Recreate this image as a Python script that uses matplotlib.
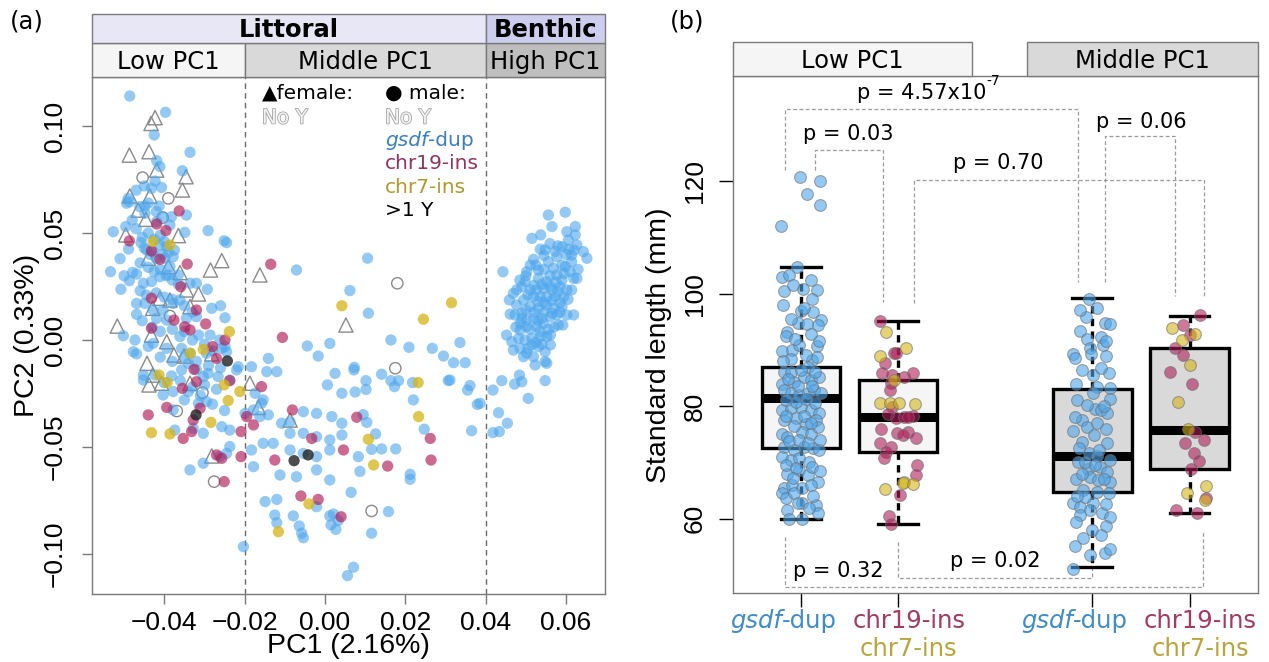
import numpy as np
import matplotlib
matplotlib.use("Agg")
import matplotlib.pyplot as plt
from matplotlib.patches import Rectangle
import matplotlib.patheffects as pe
from matplotlib.transforms import offset_copy, blended_transform_factory

# ======================= DATA : panel (a) PCA =======================
# (PC1, PC2) pairs
pc_blue = [
    (-0.0486, 0.1140), (-0.0397, 0.1064), (-0.0425, 0.0958), (-0.0336, 0.0877), (-0.0419, 0.0838),
    (-0.0411, 0.0810), (-0.0355, 0.0791), (-0.0423, 0.0743), (-0.0432, 0.0709), (-0.0407, 0.0713),
    (-0.0490, 0.0662), (-0.0494, 0.0639), (-0.0461, 0.0623), (-0.0448, 0.0626), (-0.0413, 0.0626),
    (-0.0487, 0.0646), (-0.0403, 0.0576), (-0.0382, 0.0576), (-0.0345, 0.0584), (-0.0448, 0.0592),
    (-0.0527, 0.0506), (-0.0496, 0.0530), (-0.0419, 0.0553), (-0.0386, 0.0537), (-0.0349, 0.0503),
    (-0.0291, 0.0511), (-0.0251, 0.0464), (-0.0245, 0.0455), (-0.0489, 0.0425), (-0.0458, 0.0455),
    (-0.0444, 0.0421), (-0.0428, 0.0413), (-0.0411, 0.0444), (-0.0394, 0.0436), (-0.0378, 0.0389),
    (-0.0399, 0.0382), (-0.0386, 0.0343), (-0.0534, 0.0319), (-0.0479, 0.0316), (-0.0469, 0.0308),
    (-0.0487, 0.0277), (-0.0508, 0.0237), (-0.0452, 0.0265), (-0.0432, 0.0273), (-0.0411, 0.0296),
    (-0.0390, 0.0304), (-0.0365, 0.0304), (-0.0336, 0.0265), (-0.0320, 0.0265), (-0.0293, 0.0237),
    (-0.0469, 0.0171), (-0.0448, 0.0171), (-0.0428, 0.0140), (-0.0403, 0.0140), (-0.0378, 0.0171),
    (-0.0361, 0.0187), (-0.0282, 0.0148), (-0.0260, 0.0160), (-0.0469, 0.0120), (-0.0419, 0.0101),
    (-0.0394, 0.0093), (-0.0345, 0.0101), (-0.0320, 0.0109), (-0.0249, 0.0104), (-0.0502, 0.0020),
    (-0.0473, 0.0000), (-0.0428, -0.0016), (-0.0361, 0.0016), (-0.0315, 0.0023), (-0.0286, 0.0023),
    (-0.0262, 0.0000), (-0.0477, -0.0055), (-0.0469, -0.0065), (-0.0394, -0.0039), (-0.0357, -0.0039),
    (-0.0336, -0.0062), (-0.0295, -0.0062), (-0.0257, -0.0039), (-0.0249, -0.0031), (-0.0245, -0.0055),
    (-0.0452, -0.0164), (-0.0452, -0.0187), (-0.0423, -0.0164), (-0.0382, -0.0168), (-0.0357, -0.0140),
    (-0.0340, -0.0109), (-0.0320, -0.0140), (-0.0303, -0.0171), (-0.0291, -0.0156), (-0.0266, -0.0171),
    (-0.0237, -0.0187), (-0.0220, -0.0140), (-0.0216, -0.0125), (-0.0403, -0.0257), (-0.0378, -0.0241),
    (-0.0340, -0.0241), (-0.0315, -0.0296), (-0.0295, -0.0288), (-0.0257, -0.0405), (-0.0237, -0.0421),
    (-0.0303, -0.0436), (-0.0328, -0.0413), (-0.0374, -0.0421), (-0.0378, -0.0327), (-0.0245, -0.0530),
    (-0.0237, -0.0498), (-0.0262, -0.0545), (-0.0336, -0.0607), (-0.0303, -0.0576), (-0.0183, -0.0125),
    (-0.0141, -0.0086), (-0.0145, -0.0148), (-0.0120, -0.0148), (-0.0174, -0.0249), (-0.0154, -0.0280),
    (-0.0158, -0.0296), (-0.0178, -0.0327), (-0.0141, -0.0350), (-0.0071, 0.0327), (-0.0044, -0.0028),
    (0.0012, -0.0016), (-0.0017, -0.0075), (0.0025, -0.0156), (0.0006, -0.0210), (0.0042, -0.0249),
    (-0.0108, -0.0389), (-0.0087, -0.0382), (-0.0054, -0.0335), (-0.0021, -0.0343), (0.0017, -0.0358),
    (0.0042, -0.0389), (-0.0087, -0.0436), (-0.0054, -0.0436), (-0.0021, -0.0452), (0.0012, -0.0467),
    (0.0042, -0.0444), (-0.0183, -0.0514), (-0.0154, -0.0483), (-0.0129, -0.0483), (-0.0087, -0.0514),
    (-0.0054, -0.0530), (-0.0021, -0.0545), (0.0012, -0.0514), (-0.0178, -0.0592), (-0.0112, -0.0631),
    (-0.0071, -0.0639), (-0.0021, -0.0607), (0.0012, -0.0654), (-0.0162, -0.0358), (-0.0199, -0.0343),
    # middle region
    (0.0106, 0.0382), (0.0062, 0.0231), (0.0108, 0.0125), (0.0164, 0.0000), (0.0209, -0.0034),
    (0.0267, -0.0039), (0.0336, -0.0012), (0.0295, -0.0075), (0.0320, -0.0106), (0.0349, -0.0106),
    (0.0073, -0.0128), (0.0072, -0.0140), (0.0102, -0.0190), (0.0102, -0.0231), (0.0075, -0.0243),
    (0.0141, -0.0160), (0.0164, -0.0190), (0.0173, -0.0218), (0.0183, -0.0190), (0.0218, -0.0199),
    (0.0220, -0.0280), (0.0307, -0.0190), (0.0311, -0.0187), (0.0361, -0.0213), (0.0355, -0.0234),
    (0.0379, -0.0301), (0.0365, -0.0424), (0.0247, -0.0417), (0.0176, -0.0509), (0.0141, -0.0509),
    (0.0116, -0.0511), (0.0126, -0.0439), (0.0095, -0.0349), (0.0104, -0.0385), (0.0083, -0.0545),
    (0.0087, -0.0614), (0.0065, -0.0712), (0.0212, -0.0628), (0.0212, -0.0651), (0.0158, -0.0802),
    (0.0116, -0.0903), (0.0071, -0.1062), (0.0056, -0.1101), (-0.0125, -0.0818), (-0.0120, -0.0854),
    (-0.0079, -0.0822), (-0.0064, -0.0869), (-0.0058, -0.0903), (-0.0054, -0.0924), (0.0012, -0.0822),
    (0.0015, -0.0864), (0.0027, -0.0885), (0.0021, -0.0813), (0.0033, -0.0844), (-0.0021, -0.0779),
    (-0.0203, -0.0966), (-0.0120, -0.0745), (-0.0149, -0.0755),
    # benthic cluster
    (0.0556, 0.0584), (0.0598, 0.0597), (0.0565, 0.0530), (0.0623, 0.0530), (0.0602, 0.0506),
    (0.0623, 0.0491), (0.0537, 0.0491), (0.0515, 0.0475), (0.0606, 0.0467), (0.0627, 0.0444),
    (0.0643, 0.0413), (0.0652, 0.0382), (0.0536, 0.0424), (0.0548, 0.0421), (0.0573, 0.0413),
    (0.0590, 0.0436), (0.0606, 0.0424), (0.0614, 0.0397), (0.0577, 0.0389), (0.0556, 0.0366),
    (0.0519, 0.0377), (0.0511, 0.0350), (0.0502, 0.0319), (0.0531, 0.0327), (0.0569, 0.0335),
    (0.0598, 0.0343), (0.0614, 0.0366), (0.0619, 0.0288), (0.0627, 0.0288), (0.0577, 0.0304),
    (0.0590, 0.0280), (0.0552, 0.0273), (0.0531, 0.0288), (0.0498, 0.0273), (0.0477, 0.0234),
    (0.0490, 0.0249), (0.0511, 0.0234), (0.0527, 0.0234), (0.0544, 0.0241), (0.0565, 0.0234),
    (0.0585, 0.0249), (0.0602, 0.0234), (0.0614, 0.0234), (0.0469, 0.0218), (0.0459, 0.0187),
    (0.0477, 0.0164), (0.0494, 0.0187), (0.0519, 0.0202), (0.0536, 0.0202), (0.0552, 0.0202),
    (0.0573, 0.0202), (0.0594, 0.0202), (0.0461, 0.0121), (0.0473, 0.0117), (0.0490, 0.0125),
    (0.0511, 0.0156), (0.0531, 0.0148), (0.0552, 0.0164), (0.0569, 0.0148), (0.0590, 0.0156),
    (0.0486, 0.0078), (0.0502, 0.0093), (0.0519, 0.0101), (0.0540, 0.0101), (0.0561, 0.0109),
    (0.0577, 0.0117), (0.0602, 0.0117), (0.0619, 0.0117), (0.0581, 0.0070), (0.0592, 0.0070),
    (0.0486, 0.0047), (0.0502, 0.0062), (0.0527, 0.0062), (0.0544, 0.0078), (0.0452, 0.0023),
    (0.0465, -0.0008), (0.0482, 0.0008), (0.0498, 0.0000), (0.0515, 0.0008), (0.0536, 0.0016),
    (0.0552, 0.0016), (0.0561, 0.0023), (0.0469, -0.0047), (0.0486, -0.0039), (0.0502, -0.0062),
    (0.0515, -0.0023), (0.0531, -0.0031), (0.0548, -0.0055), (0.0561, -0.0023), (0.0494, -0.0078),
    (0.0519, -0.0078), (0.0523, -0.0117), (0.0548, -0.0101), (0.0552, -0.0109), (0.0443, 0.0319),
    (0.0484, -0.0164), (0.0490, -0.0195), (0.0472, -0.0206), (0.0440, -0.0190), (0.0418, -0.0234),
    (0.0548, -0.0190), (0.0506, -0.0273), (0.0432, -0.0340), (0.0454, -0.0389), (0.0418, -0.0433),
    (0.0434, -0.0428), (0.0386, -0.0296),
    (0.0545, 0.0330), (0.0560, 0.0300), (0.0575, 0.0270), (0.0595, 0.0310), (0.0540, 0.0260),
    (0.0560, 0.0250), (0.0580, 0.0225), (0.0520, 0.0255), (0.0505, 0.0210), (0.0530, 0.0180),
    (0.0545, 0.0175), (0.0565, 0.0185), (0.0585, 0.0175), (0.0605, 0.0190), (0.0500, 0.0140),
    (0.0520, 0.0130), (0.0545, 0.0130), (0.0565, 0.0125), (0.0585, 0.0130), (0.0510, 0.0050),
    (0.0535, 0.0040), (0.0555, 0.0050), (0.0570, 0.0060), (0.0525, -0.0010), (0.0540, -0.0020),
    (0.0505, -0.0040), (0.0590, 0.0350), (0.0610, 0.0320), (0.0630, 0.0330), (0.0600, 0.0400),
    (0.0620, 0.0420), (0.0580, 0.0440), (0.0560, 0.0450), (0.0545, 0.0395), (0.0525, 0.0350),
    (0.0500, 0.0300), (0.0485, 0.0280), (0.0490, 0.0100), (0.0475, 0.0060), (0.0530, 0.0090),
    # extra dense low-PC1 cloud
    (-0.0480, 0.0560), (-0.0470, 0.0520), (-0.0455, 0.0480), (-0.0440, 0.0500), (-0.0425, 0.0470),
    (-0.0410, 0.0490), (-0.0400, 0.0460), (-0.0450, 0.0430), (-0.0435, 0.0400), (-0.0420, 0.0380),
    (-0.0405, 0.0400), (-0.0390, 0.0410), (-0.0375, 0.0420), (-0.0460, 0.0360), (-0.0440, 0.0340),
    (-0.0425, 0.0320), (-0.0410, 0.0330), (-0.0395, 0.0300), (-0.0380, 0.0280), (-0.0365, 0.0260),
    (-0.0460, 0.0230), (-0.0445, 0.0210), (-0.0420, 0.0220), (-0.0400, 0.0200), (-0.0380, 0.0190),
    (-0.0350, 0.0160), (-0.0330, 0.0130), (-0.0455, 0.0090), (-0.0430, 0.0060), (-0.0410, 0.0040),
    (-0.0380, 0.0050), (-0.0350, 0.0040), (-0.0330, 0.0000), (-0.0300, -0.0020), (-0.0280, -0.0050),
    (-0.0440, -0.0030), (-0.0410, -0.0080), (-0.0380, -0.0100), (-0.0350, -0.0080), (-0.0320, -0.0100),
    (-0.0290, -0.0120), (-0.0260, -0.0130), (-0.0400, -0.0200), (-0.0360, -0.0190), (-0.0330, -0.0220),
    (-0.0300, -0.0210), (-0.0270, -0.0230), (-0.0350, -0.0280), (-0.0310, -0.0260), (-0.0280, -0.0300),
    (-0.0250, -0.0330), (-0.0440, 0.0640), (-0.0420, 0.0600), (-0.0470, 0.0700), (-0.0450, 0.0720),
    (-0.0510, 0.0380), (-0.0500, 0.0300),
]
pc_crimson = [
    (-0.0363, 0.0603), (-0.0419, 0.0542), (-0.0487, 0.0463), (-0.0396, 0.0511), (-0.0343, 0.0355),
    (-0.0411, 0.0377), (-0.0432, 0.0416), (-0.0359, 0.0249), (-0.0432, 0.0195), (-0.0320, 0.0140),
    (-0.0376, 0.0093), (-0.0432, 0.0055), (-0.0349, 0.0062), (-0.0336, 0.0047), (-0.0297, 0.0075),
    (-0.0249, 0.0000), (-0.0280, -0.0031), (-0.0270, -0.0086), (-0.0326, -0.0137), (-0.0355, -0.0226),
    (-0.0320, -0.0195), (-0.0237, -0.0190), (-0.0394, -0.0315), (-0.0440, -0.0350), (-0.0311, -0.0319),
    (-0.0328, -0.0374), (-0.0332, -0.0428), (-0.0353, -0.0460), (-0.0195, -0.0358), (-0.0178, -0.0397),
    (-0.0209, -0.0428), (-0.0209, -0.0545), (-0.0270, -0.0537), (-0.0257, -0.0553), (-0.0251, -0.0662),
    (-0.0135, 0.0354), (-0.0106, 0.0012), (-0.0158, -0.0218), (-0.0081, -0.0327), (-0.0033, -0.0460),
    (0.0046, -0.0514), (-0.0125, -0.0561),
    (0.0079, -0.0361), (0.0262, -0.0460), (0.0264, -0.0561), (0.0156, -0.0589), (0.0040, -0.0826),
    (-0.0060, -0.0729), (-0.0017, -0.0745),
]
pc_yellow = [
    (-0.0428, 0.0460), (-0.0386, 0.0444), (-0.0238, 0.0039), (-0.0303, -0.0044), (-0.0335, -0.0062),
    (-0.0413, -0.0164), (-0.0393, -0.0199), (-0.0251, -0.0210), (-0.0212, -0.0241), (-0.0241, -0.0283),
    (-0.0284, -0.0385), (-0.0432, -0.0433), (-0.0386, -0.0439), (0.0042, 0.0160),
    (0.0245, 0.0097), (0.0315, 0.0174), (0.0232, -0.0199), (0.0233, -0.0358), (0.0108, -0.0464),
    (0.0121, -0.0584), (-0.0040, -0.0766), (-0.0116, -0.0896),
]
pc_black = [(-0.0243, -0.0098), (-0.0321, -0.0350), (-0.0077, -0.0564), (-0.0042, -0.0537)]
pc_noY_female = [
    (-0.0423, 0.1039), (-0.0433, 0.1012), (-0.0487, 0.0864), (-0.0438, 0.0880), (-0.0419, 0.0794),
    (-0.0346, 0.0763), (-0.0355, 0.0701), (-0.0486, 0.0673), (-0.0436, 0.0673), (-0.0465, 0.0607),
    (-0.0446, 0.0564), (-0.0365, 0.0488), (-0.0496, 0.0491), (-0.0440, 0.0382), (-0.0390, 0.0343),
    (-0.0361, 0.0315), (-0.0257, 0.0371), (-0.0285, 0.0327), (-0.0162, 0.0304), (-0.0411, 0.0195),
    (-0.0386, 0.0187), (-0.0345, 0.0234), (-0.0315, 0.0215), (-0.0336, 0.0156), (-0.0429, 0.0148),
    (-0.0517, 0.0065), (-0.0432, 0.0023), (-0.0394, -0.0008), (-0.0376, -0.0070), (-0.0351, -0.0075),
    (-0.0282, -0.0065), (-0.0443, -0.0109), (-0.0429, -0.0164), (-0.0407, -0.0202), (-0.0336, -0.0202),
    (-0.0187, -0.0202), (-0.0166, -0.0315), (-0.0087, -0.0374), (0.0052, 0.0070), (-0.0282, -0.0542),
    (-0.0438, -0.0210),
]
pc_noY_male = [
    (-0.0454, 0.0759), (-0.0390, 0.0662), (-0.0404, 0.0572), (-0.0386, 0.0112), (-0.0305, -0.0246),
    (-0.0369, -0.0332), (-0.0276, -0.0662), (0.0180, 0.0265), (0.0175, -0.0132), (0.0116, -0.0799),
]
pc1_ticks = [-0.04, -0.02, 0.00, 0.02, 0.04, 0.06]
pc1_ticklabels = ["\u22120.04", "\u22120.02", "0.00", "0.02", "0.04", "0.06"]
pc2_ticks = [-0.10, -0.05, 0.00, 0.05, 0.10]
pc2_ticklabels = ["\u22120.10", "\u22120.05", "0.00", "0.05", "0.10"]
pc1_bounds = [-0.02, 0.04]          # Low | Middle | High PC1
pc1_lim = (-0.0580, 0.0697)
pc2_lim = (-0.1187, 0.1229)

# ======================= DATA : panel (b) standard length =======================
group_pos = [1, 2, 4, 5]
box_med = [81.5, 78.0, 71.2, 75.8]
box_q1 = [72.5, 71.8, 64.7, 68.8]
box_q3 = [87.0, 84.6, 83.0, 90.4]
box_whislo = [59.9, 59.0, 51.3, 61.0]
box_whishi = [104.8, 95.1, 99.2, 96.1]

low_dup = [
    (0.99, 120.8), (1.20, 120.0), (1.06, 117.7), (1.20, 115.7), (0.80, 112.0), (0.96, 104.8), (0.81, 102.9),
    (0.88, 103.3), (0.83, 100.4), (1.02, 100.9), (1.17, 100.7), (0.82, 98.0), (1.12, 99.1), (1.00, 96.9),
    (1.13, 96.8), (1.21, 95.3), (1.18, 94.4), (0.97, 94.8), (1.06, 94.6), (0.86, 93.2), (0.85, 92.4),
    (1.17, 90.7), (0.81, 89.8), (0.91, 90.0), (0.98, 90.8), (0.90, 88.3), (1.12, 88.2), (1.17, 88.8),
    (0.83, 86.1), (1.07, 87.0),
    (0.808, 84.0), (0.930, 84.3), (1.035, 85.2), (1.104, 84.6), (1.192, 85.2), (0.826, 82.8), (0.896, 82.3),
    (0.983, 82.0), (1.070, 82.3), (1.139, 82.8), (1.209, 82.3), (0.808, 79.3), (0.896, 79.6), (1.000, 79.9),
    (1.104, 79.3), (1.192, 78.7), (0.826, 77.5), (0.948, 77.8), (1.052, 76.9), (1.157, 77.5), (0.808, 75.1),
    (0.861, 74.5), (1.017, 75.4), (1.104, 75.1), (1.174, 76.3), (0.826, 72.8), (0.930, 72.2), (1.035, 72.8),
    (1.122, 72.5), (1.192, 72.2), (0.808, 71.0), (0.896, 70.4), (0.983, 70.7), (1.087, 70.1), (0.861, 68.0),
    (0.983, 68.6), (1.070, 67.7), (1.174, 66.5), (0.826, 65.4), (0.913, 66.0), (1.017, 65.4), (1.104, 66.0),
    (0.808, 64.5), (0.843, 63.6), (0.930, 64.5), (1.017, 62.7), (1.157, 62.4), (0.861, 61.5), (1.174, 60.9),
    (0.878, 60.0), (1.017, 60.0),
    (0.85, 81.0), (0.95, 80.8), (1.05, 81.2), (1.15, 80.5), (0.90, 86.0), (1.00, 86.5), (1.15, 86.0),
    (0.87, 84.8), (0.97, 83.5), (1.12, 83.5), (0.85, 78.2), (0.93, 76.5), (1.03, 78.2), (1.10, 77.0),
    (0.88, 73.8), (0.98, 74.0), (1.07, 73.5), (1.20, 74.0), (0.85, 69.5), (0.95, 69.0), (1.12, 69.2),
    (1.20, 68.5), (0.92, 67.2), (1.13, 64.0), (0.97, 62.8), (1.08, 61.8), (0.82, 88.0), (1.05, 89.0),
    (1.19, 91.5), (0.94, 92.0), (1.10, 92.8), (0.90, 95.5), (1.03, 97.5), (0.92, 101.5), (1.10, 102.5),
]
low_chr19 = [
    (1.811, 95.1), (1.954, 89.5), (1.982, 89.4), (1.863, 87.7), (1.839, 85.8), (1.943, 85.6), (2.062, 85.2),
    (2.152, 85.9), (1.933, 84.1), (1.916, 82.8), (1.978, 77.8), (2.062, 78.0), (2.152, 78.3), (1.898, 78.6),
    (1.943, 79.9), (1.829, 76.0), (1.992, 75.3), (2.107, 75.4), (2.187, 74.4), (1.811, 73.4), (1.933, 72.7),
    (1.881, 71.9), (1.853, 70.7), (2.194, 69.5), (2.187, 67.7), (2.020, 64.2), (1.909, 60.4), (1.933, 59.0),
    (2.107, 78.1), (2.055, 74.8),
]
low_chr7 = [
    (1.881, 93.2), (2.083, 90.4), (1.811, 88.9), (1.957, 84.6), (1.811, 80.5), (1.916, 80.5), (2.006, 80.5),
    (2.177, 80.3), (2.062, 66.5), (2.048, 66.4), (2.152, 66.1), (1.863, 65.2),
]
mid_dup = [
    (3.967, 99.1), (3.933, 95.8), (4.131, 94.8), (4.183, 94.6), (3.870, 93.3), (4.086, 92.2), (3.946, 91.9),
    (4.114, 90.8), (3.974, 90.3), (3.800, 89.2), (3.818, 88.5), (3.981, 89.2), (4.142, 88.9), (4.166, 85.8),
    (4.009, 85.5), (3.835, 83.9), (4.044, 83.4), (4.183, 83.3), (4.009, 82.4), (4.183, 81.2), (4.027, 79.4),
    (4.086, 79.3), (4.155, 78.7), (3.898, 77.5), (3.946, 76.3), (3.800, 75.6), (4.016, 74.8), (4.148, 73.5),
    (3.898, 73.7), (3.967, 71.6), (4.044, 71.1), (4.183, 70.4), (3.852, 70.1), (3.957, 68.9), (4.079, 69.2),
    (4.155, 68.3), (3.835, 67.1), (3.974, 67.4), (4.061, 66.8), (4.183, 66.5), (3.905, 65.1), (4.166, 64.5),
    (3.800, 62.7), (3.870, 62.1), (4.009, 62.7), (3.974, 61.5), (3.870, 60.6), (4.096, 60.9), (4.183, 60.2),
    (4.142, 58.7), (3.835, 59.4), (3.818, 55.1), (3.974, 53.5), (4.131, 53.8), (4.183, 54.5), (3.800, 51.1),
    (3.893, 86.5), (4.093, 86.8), (3.843, 81.0), (3.943, 80.2), (4.123, 80.0), (3.823, 78.0), (4.043, 77.0),
    (4.143, 76.0), (3.863, 72.5), (4.063, 72.2), (3.923, 70.0), (4.023, 69.5), (3.893, 68.0), (4.123, 67.0),
    (4.043, 64.8), (3.923, 63.8), (4.143, 62.5), (3.843, 64.0), (3.993, 58.0), (4.093, 57.0), (3.903, 56.5),
    (3.873, 97.0), (4.043, 97.5), (4.143, 91.5),
]
mid_chr19 = [
    (5.109, 96.2), (4.928, 94.4), (5.005, 92.6), (4.848, 90.4), (4.928, 89.1), (4.803, 86.1), (5.029, 83.9),
    (5.057, 75.4), (4.956, 73.5), (5.144, 74.0), (5.046, 71.7), (5.102, 70.3), (5.015, 68.9), (4.865, 61.6),
    (5.074, 60.9), (5.172, 63.6),
]
mid_chr7 = [
    (4.824, 93.8), (5.060, 92.8), (4.918, 91.7), (5.005, 87.3), (4.883, 80.8), (4.980, 75.9), (4.977, 64.6),
    (5.172, 65.7), (5.161, 63.3),
]
sl_ticks = [60, 80, 100, 120]
sl_lim = (46.76, 138.7)
grp_lim = (0.3025, 5.704)
# significance brackets: (x_left, x_right, y_bar, y_left_end, y_right_end, label, superscript, label_x, label_y)
brackets = [
    (0.837, 3.851, 132.9, 122.0, 102.0, "p = 4.57x10", "-7", 2.309, 135.6),
    (1.150, 1.845, 125.5, 122.0, 98.5, "p = 0.03", "", 1.486, 128.4),
    (2.165, 5.144, 120.2, 98.3, 99.5, "p = 0.70", "", 3.029, 123.2),
    (4.134, 4.850, 128.1, 102.0, 99.5, "p = 0.06", "", 4.500, 130.6),
    (0.837, 5.138, 47.8, 56.8, 57.8, "p = 0.32", "", 1.383, 50.6),
    (2.000, 4.001, 49.4, 55.9, 51.2, "p = 0.02", "", 2.998, 52.4),
]

# ======================= COLOURS =======================
C_BLUE = "#4da6ec"
C_CRIM = "#b01e5a"
C_YELL = "#d4b414"
C_BLK = "#202020"
FRAME = "#7a7a7a"

W, H = 1269, 662
fig = plt.figure(figsize=(W / 100, H / 100), dpi=100)
plt.rcParams["font.family"] = ["DejaVu Sans"]


def rect(l, t, r, b):
    return [l / W, 1 - b / H, (r - l) / W, (b - t) / H]


axA = fig.add_axes(rect(92, 77, 605, 594))
axA_h2 = fig.add_axes(rect(92, 43, 605, 77))
axA_h1 = fig.add_axes(rect(92, 14, 605, 43))
axB = fig.add_axes(rect(733, 76, 1258, 593))
axB_h = fig.add_axes(rect(733, 42, 1258, 76))


def strip(ax, x0, x1, label, face, bold=False):
    ax.add_patch(Rectangle((x0, 0), x1 - x0, 1, facecolor=face, edgecolor=FRAME, lw=1.0,
                           clip_on=False))
    ax.text((x0 + x1) / 2, 0.45, label, ha="center", va="center", fontsize=17.5,
            fontweight="bold" if bold else "normal", color="black")


for h in (axA_h1, axA_h2):
    h.set_xlim(pc1_lim)
    h.set_ylim(0, 1)
    h.axis("off")
strip(axA_h1, pc1_lim[0], pc1_bounds[1], "Littoral", "#e7e7f6", bold=True)
strip(axA_h1, pc1_bounds[1], pc1_lim[1], "Benthic", "#cdcdee", bold=True)
strip(axA_h2, pc1_lim[0], pc1_bounds[0], "Low PC1", "#f5f5f5")
strip(axA_h2, pc1_bounds[0], pc1_bounds[1], "Middle PC1", "#d9d9d9")
strip(axA_h2, pc1_bounds[1], pc1_lim[1], "High PC1", "#bebebe")

axB_h.set_xlim(grp_lim)
axB_h.set_ylim(0, 1)
axB_h.axis("off")
strip(axB_h, grp_lim[0], 2.761, "Low PC1", "#f5f5f5")
strip(axB_h, 3.327, grp_lim[1], "Middle PC1", "#d9d9d9")

# ---------------- panel (a) ----------------
axA.set_xlim(pc1_lim)
axA.set_ylim(pc2_lim)
for b in pc1_bounds:
    axA.axvline(b, color="#6a6a6a", lw=1.0, ls=(0, (4, 3)), zorder=1)


def xy(lst):
    a = np.array(lst)
    return a[:, 0], a[:, 1]


PA = 66
axA.scatter(*xy(pc_noY_female), marker="^", s=105, facecolors="none", edgecolors="#8a8a8a",
            linewidths=1.0, zorder=2)
axA.scatter(*xy(pc_noY_male), marker="o", s=PA, facecolors="none", edgecolors="#8a8a8a",
            linewidths=1.0, zorder=2)
axA.scatter(*xy(pc_blue), s=PA, color=C_BLUE, alpha=0.6, edgecolors="none", zorder=3)
axA.scatter(*xy(pc_crimson), s=PA, color=C_CRIM, alpha=0.66, edgecolors="none", zorder=4)
axA.scatter(*xy(pc_yellow), s=PA, color=C_YELL, alpha=0.75, edgecolors="none", zorder=4)
axA.scatter(*xy(pc_black), s=PA, color=C_BLK, alpha=0.8, edgecolors="none", zorder=5)

axA.set_xticks(pc1_ticks)
axA.set_xticklabels(pc1_ticklabels, fontfamily="Liberation Sans", fontsize=19)
axA.set_yticks(pc2_ticks)
axA.set_yticklabels(pc2_ticklabels, fontfamily="Liberation Sans", fontsize=19, rotation=90,
                    va="center")
axA.tick_params(axis="both", length=7, width=1, color=FRAME)
axA.tick_params(axis="x", pad=5)
axA.tick_params(axis="y", pad=11)
for sp in axA.spines.values():
    sp.set_color(FRAME)
    sp.set_linewidth(1.0)
axA.text(0.5, -0.114, "PC1 (2.16%)", transform=axA.transAxes, ha="center", va="baseline",
         fontsize=20.5, fontfamily="Liberation Sans")
axA.text(-0.127, 0.5, "PC2 (0.33%)", transform=axA.transAxes, ha="center", va="center",
         rotation=90, fontsize=20.5, fontfamily="Liberation Sans")

# legend
LFS = 14.5
hollow = [pe.withStroke(linewidth=1.1, foreground="#a0a0a0")]
axA.text(0.331, 0.958, "\u25b2female:", transform=axA.transAxes, fontsize=LFS, va="baseline")
axA.text(0.571, 0.958, "\u25cf male:", transform=axA.transAxes, fontsize=LFS, va="baseline")
axA.text(0.331, 0.910, "No Y", transform=axA.transAxes, fontsize=LFS, va="baseline",
         color="#f2f2f2", path_effects=hollow)
axA.text(0.571, 0.910, "No Y", transform=axA.transAxes, fontsize=LFS, va="baseline",
         color="#f2f2f2", path_effects=hollow)
lg1 = axA.text(0.571, 0.8665, "gsdf", transform=axA.transAxes, fontsize=LFS, va="baseline",
               style="italic", color="#3a7fbf")
axA.annotate("-dup", xy=(1, 0), xycoords=lg1, ha="left", va="bottom", fontsize=LFS,
             color="#3a7fbf", annotation_clip=False)
axA.text(0.571, 0.8215, "chr19-ins", transform=axA.transAxes, fontsize=LFS, va="baseline",
         color="#93345b")
axA.text(0.571, 0.7762, "chr7-ins", transform=axA.transAxes, fontsize=LFS, va="baseline",
         color="#b09a2c")
axA.text(0.571, 0.7311, ">1 Y", transform=axA.transAxes, fontsize=LFS, va="baseline",
         color="black")

# ---------------- panel (b) ----------------
axB.set_xlim(grp_lim)
axB.set_ylim(sl_lim)
stats = [dict(med=m, q1=a, q3=b, whislo=lo, whishi=hi, fliers=[])
         for m, a, b, lo, hi in zip(box_med, box_q1, box_q3, box_whislo, box_whishi)]
bp = axB.bxp(stats, positions=group_pos, widths=0.805, capwidths=0.41, patch_artist=True,
             showfliers=False,
             boxprops=dict(linewidth=2.4, edgecolor="black"),
             medianprops=dict(color="black", linewidth=6.5, solid_capstyle="butt"),
             whiskerprops=dict(color="black", linewidth=2.4, linestyle=(0, (2.2, 1.6))),
             capprops=dict(color="black", linewidth=2.4))
for patch, fc in zip(bp["boxes"], ["#f5f5f5", "#f5f5f5", "#d9d9d9", "#d9d9d9"]):
    patch.set_facecolor(fc)

PS = 72
for pts, col in [(low_dup, C_BLUE), (mid_dup, C_BLUE), (low_chr19, C_CRIM), (mid_chr19, C_CRIM),
                 (low_chr7, C_YELL), (mid_chr7, C_YELL)]:
    axB.scatter(*xy(pts), s=PS, color=col, alpha=0.6, edgecolors="#6e6e6e", linewidths=0.8,
                zorder=4)

sup_parts = []
for xl, xr, yb, yle, yre, lab, sup, tx, ty in brackets:
    axB.plot([xl, xl, xr, xr], [yle, yb, yb, yre], color="#9a9a9a", lw=0.9,
             ls=(0, (3, 2)), zorder=1)
    if sup:
        t = axB.text(tx, ty, lab, ha="left", va="center", fontsize=15)
        s = axB.annotate(sup, xy=(1, 0.78), xycoords=t, ha="left", va="bottom", fontsize=10,
                         annotation_clip=False)
        sup_parts.append((t, s))
    else:
        axB.text(tx, ty, lab, ha="center", va="center", fontsize=15)

axB.set_yticks(sl_ticks)
axB.set_yticklabels([str(t) for t in sl_ticks], fontfamily="Liberation Sans", fontsize=19,
                    rotation=90, va="center")
axB.set_xticks(group_pos)
axB.set_xticklabels([])
axB.tick_params(axis="both", length=10, width=1, color="black")
axB.tick_params(axis="y", pad=9)
for sp in axB.spines.values():
    sp.set_color(FRAME)
    sp.set_linewidth(1.0)
axB.text(-0.141, 0.48, "Standard length (mm)", transform=axB.transAxes, ha="center",
         va="center", rotation=90, fontsize=20.5, fontfamily="Liberation Sans")

# x labels of panel (b)
XFS = 17.5
bt = blended_transform_factory(axB.transData, axB.transAxes)
dup_label_x = [0.82, 3.82]
ins_label_x = [2.11, 5.11]
dup_parts = []
for x in dup_label_x:
    t1 = axB.text(x, -0.0677, "gsdf", transform=bt, style="italic", color="#3f8cc8",
                  fontsize=XFS, ha="left", va="baseline")
    t2 = axB.annotate("-dup", xy=(1, 0), xycoords=t1, ha="left", va="bottom", color="#3f8cc8",
                      fontsize=XFS, annotation_clip=False)
    dup_parts.append((t1, t2))
for x in ins_label_x:
    axB.text(x, -0.0677, "chr19-ins", transform=bt, color="#a33a63", fontsize=XFS,
             ha="center", va="baseline")
    axB.text(x, -0.121, "chr7-ins", transform=bt, color="#b9a53a", fontsize=XFS,
             ha="center", va="baseline")

fig.text(10 / W, 1 - 22 / H, "(a)", fontsize=17.5, ha="left", va="center")
fig.text(670 / W, 1 - 22 / H, "(b)", fontsize=17.5, ha="left", va="center")

fig.canvas.draw()
r = fig.canvas.get_renderer()
for t1, t2 in dup_parts:
    w = t1.get_window_extent(r).width + t2.get_window_extent(r).width
    t1.set_transform(offset_copy(bt, fig=fig, x=-w / 2, y=0, units="dots"))
for t, s in sup_parts:
    w = t.get_window_extent(r).width + s.get_window_extent(r).width
    t.set_transform(offset_copy(axB.transData, fig=fig, x=-w / 2, y=0, units="dots"))

fig.savefig("out.png", dpi=100)
